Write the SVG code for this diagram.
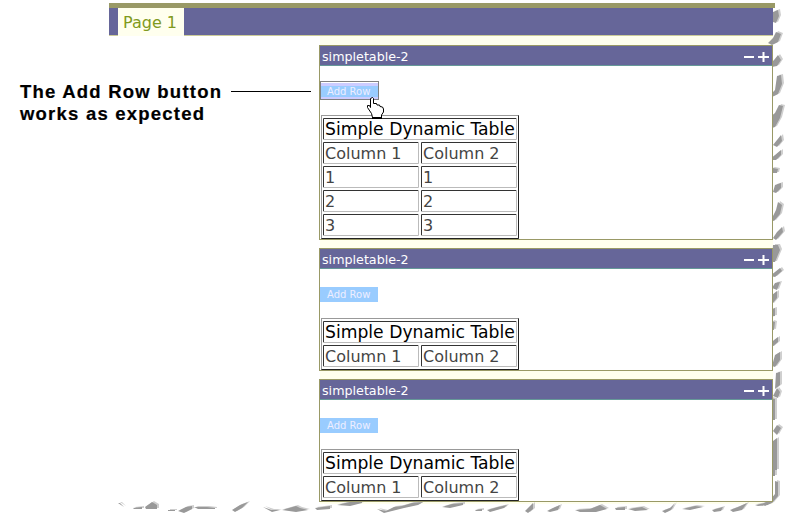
<svg xmlns="http://www.w3.org/2000/svg" width="793" height="523" viewBox="0 0 793 523">
<style>
.hd{fill:#666699}
.tl{fill:#669999}
.pb{fill:#fff;stroke:#999966;stroke-width:1}
.ht{font:12.700px "DejaVu Sans",sans-serif;fill:#fff}
.cap{font:17.200px "DejaVu Sans",sans-serif;fill:#000}
.cell{font:16px "DejaVu Sans",sans-serif;fill:#444}
.btn{font:10px "DejaVu Sans",sans-serif;fill:#eef}
.note{font:bold 18.500px "Liberation Sans",Arial,sans-serif;fill:#000;stroke:#000;stroke-width:.2}
.ctl{stroke:#fff;stroke-width:2;fill:none}
.dk{stroke:#333;fill:none}.lg{stroke:#bbb;fill:none}
.out{fill:#fff;stroke:#999}.outb{stroke:#222;fill:none}
</style>
<defs>
<path id="tears" d="M773 12L778 10L779 16L776 23L773 22Z M768 43L773 38L776 32L781 34L778 42L772 45Z M770 64L774 60L778 55L781 60L777 66L772 67Z M770 95L775 90L777 76L781 75L782 84L778 94L772 97Z M769 118L775 113L779 105L783 106L780 118L775 127L772 128Z M773 145L777 140L781 135L782 141L777 147Z M769 160L775 155L781 150L781 155L776 160Z M768 170L773 168L778 169L777 173L771 173Z M773 192L775 185L781 183L781 188L776 193Z M771 220L776 210L778 202L782 205L780 214L774 221Z M773 238L777 232L782 227L783 232L776 240Z M773 245H778L780 250L775 262H772Z M770 276L780 268L782 271L775 277Z M772 288L775 283L780 282L777 290Z M769 303L772 295L777 291L777 298L772 304Z M768 317L772 309L775 308L775 316Z M768 329L772 321L775 322L774 330Z M768 346L774 340L778 337L778 342L772 347Z M772 366L775 355L780 352L780 360L775 367Z M775 389L776 373L780 372L780 385Z M773 396L777 388L780 392L778 398Z M771 398L775 399L775 420L773 420Z M773 431L777 425L781 428L777 435Z M773 441L777 438L777 470L772 470Z M771 472L775 466L775 476L772 476Z M775 481L778 482L778 496L772 503L765 506L762 504L770 500L775 494Z M118 503L120 503L124 507Z M133 508L142 507L142 509L134 509Z M145 507L152 502L157 505L157 509L146 509Z M168 510L175 510L175 511L168 511Z M178 511L186 507L192 506L192 509L184 513Z M194 507L207 507L215 508L215 509L198 509Z M232 510L240 505L248 502L242 508L235 512Z M263 507L272 510L280 510L272 512Z M282 510L296 506L300 508L308 510L296 512Z M315 508L330 506L330 509L317 510Z M337 505L350 502L362 501L362 503L350 506Z M377 509L386 511L394 507L402 506L412 503L423 502L418 505L404 508L392 511L384 513Z M442 507L452 504L463 503L463 505L450 508Z M475 510L482 509L482 511L476 511Z M487 510L498 507L507 505L504 508L490 512Z M525 511L530 506L533 503L533 509L528 513Z M547 511L553 508L560 505L558 510L550 512Z M575 510L590 509L600 505L607 509L596 512L580 512Z M615 508L625 507L625 510L616 510Z M628 509L642 507L648 510L635 511Z M662 511L670 508L675 503L671 510L665 513Z M682 509L695 506L703 507L690 510Z M712 510L723 507L721 511L714 512Z M730 510L738 507L747 503L742 510L733 512Z M755 505L770 502L768 505L758 506Z"/>
</defs>
<rect width="793" height="523" fill="#fff"/>
<rect x="320" y="36" width="453" height="468" fill="#ffffee"/>
<g id="torn-shadow">
<use href="#tears" x="2" y="-1" fill="#cfcfcf"/>
<use href="#tears" fill="#999"/>
</g>
<g id="page-bar">
<rect x="109" y="3" width="666" height="5" fill="#999966"/>
<rect x="109" y="8" width="664" height="28" class="hd"/>
<rect x="109" y="35" width="664" height="1" fill="#cccc99"/>
<rect x="118" y="8" width="66" height="28" fill="#ffffee"/>
<text x="123" y="28" font-family="DejaVu Sans, sans-serif" font-size="16" fill="#7f9a20">Page 1</text>
</g>
<g id="annotation">
<text class="note" x="20" y="98" textLength="201" lengthAdjust="spacing">The Add Row button</text>
<text class="note" x="20" y="120" textLength="184" lengthAdjust="spacing">works as expected</text>
</g>
<g id="connectors"><path d="M231 91.500H311" stroke="#000" stroke-width="1" fill="none"/></g>
<g id="panel-1">
<rect class="pb" x="319.500" y="45.500" width="453" height="194"/>
<rect class="hd" x="320" y="46" width="452" height="19"/><rect class="tl" x="320" y="65" width="452" height="1"/>
<text class="ht" x="322" y="61">simpletable-2</text>
<path class="ctl" d="M744 57H754M758 57H769M763.500 52V62"/>
<rect x="321" y="83" width="57" height="16" fill="#ccccff"/>
<rect x="321" y="86" width="57" height="11" fill="#99ccff"/>
<rect x="320.500" y="81.500" width="58" height="18" fill="none" stroke="#000" stroke-dasharray="1 1"/>
<text class="btn" x="327" y="95">Add Row</text>
<g id="table-1">
<rect class="out" x="321.500" y="115.500" width="197" height="123"/>
<path class="outb" d="M518.500 115.500V238.500H321.500"/>
<path class="dk" d="M323.500 139V118.500H516"/><path class="lg" d="M516.500 118V139.500H323"/>
<text class="cap" x="325" y="135">Simple Dynamic Table</text>
<path class="dk" d="M323.500 163V142.500H418M421.500 163V142.500H516M323.500 187V166.500H418M421.500 187V166.500H516M323.500 211V190.500H418M421.500 211V190.500H516M323.500 235V214.500H418M421.500 235V214.500H516"/>
<path class="lg" d="M418.500 142V163.500H323M516.500 142V163.500H421M418.500 166V187.500H323M516.500 166V187.500H421M418.500 190V211.500H323M516.500 190V211.500H421M418.500 214V235.500H323M516.500 214V235.500H421"/>
<text class="cell" x="325" y="159">Column 1</text><text class="cell" x="423" y="159">Column 2</text>
<text class="cell" x="325" y="183">1</text><text class="cell" x="423" y="183">1</text>
<text class="cell" x="325" y="207">2</text><text class="cell" x="423" y="207">2</text>
<text class="cell" x="325" y="231">3</text><text class="cell" x="423" y="231">3</text>
</g>
<path id="cursor" d="M372.500 117.500L371.500 113.500L367.500 107.500V105.500L369.500 105.500L370.500 107.500V98.500L372.500 97.500L373.500 98.500V103.500L376.500 103.500L377 105L379.500 105L380 106.500L382.500 107L383.500 109V112L381.500 115V117.500Z" fill="#fff" stroke="#000"/>
<rect x="372" y="117" width="10" height="2" fill="#000"/>
</g>
<g id="panel-2">
<rect class="pb" x="319.500" y="248.500" width="453" height="122"/>
<rect class="hd" x="320" y="249" width="452" height="19"/><rect class="tl" x="320" y="268" width="452" height="1"/>
<text class="ht" x="322" y="264">simpletable-2</text>
<path class="ctl" d="M744 260H754M758 260H769M763.500 255V265"/>
<rect x="320" y="287" width="58" height="15" fill="#99ccff"/>
<text class="btn" x="327" y="298">Add Row</text>
<g id="table-2">
<rect class="out" x="321.500" y="318.500" width="197" height="51"/>
<path class="outb" d="M518.500 318.500V369.500H321.500"/>
<path class="dk" d="M323.500 342V321.500H516"/><path class="lg" d="M516.500 321V342.500H323"/>
<text class="cap" x="325" y="338">Simple Dynamic Table</text>
<path class="dk" d="M323.500 366V345.500H418M421.500 366V345.500H516"/>
<path class="lg" d="M418.500 345V366.500H323M516.500 345V366.500H421"/>
<text class="cell" x="325" y="362">Column 1</text><text class="cell" x="423" y="362">Column 2</text>
</g>
</g>
<g id="panel-3">
<rect class="pb" x="319.500" y="379.500" width="453" height="122"/>
<rect class="hd" x="320" y="380" width="452" height="19"/><rect class="tl" x="320" y="399" width="452" height="1"/>
<text class="ht" x="322" y="395">simpletable-2</text>
<path class="ctl" d="M744 391H754M758 391H769M763.500 386V396"/>
<rect x="320" y="418" width="58" height="15" fill="#99ccff"/>
<text class="btn" x="327" y="429">Add Row</text>
<g id="table-3">
<rect class="out" x="321.500" y="449.500" width="197" height="51"/>
<path class="outb" d="M518.500 449.500V500.500H321.500"/>
<path class="dk" d="M323.500 473V452.500H516"/><path class="lg" d="M516.500 452V473.500H323"/>
<text class="cap" x="325" y="469">Simple Dynamic Table</text>
<path class="dk" d="M323.500 497V476.500H418M421.500 497V476.500H516"/>
<path class="lg" d="M418.500 476V497.500H323M516.500 476V497.500H421"/>
<text class="cell" x="325" y="493">Column 1</text><text class="cell" x="423" y="493">Column 2</text>
</g>
</g>
</svg>
